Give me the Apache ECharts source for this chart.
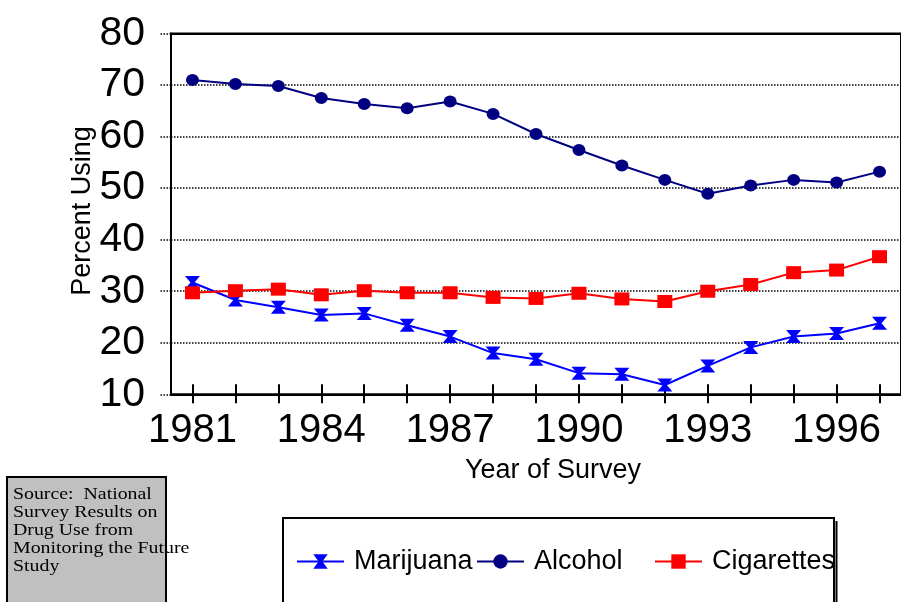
<!DOCTYPE html>
<html>
<head>
<meta charset="utf-8">
<script src="https://cdn.jsdelivr.net/npm/echarts@6/dist/echarts.min.js"></script>
<style>
html,body{margin:0;padding:0;background:#fff;}
#chart{width:901px;height:602px;}
</style>
</head>
<body>
<div id="chart"></div>
<script>
var years = ['1981','1982','1983','1984','1985','1986','1987','1988','1989','1990','1991','1992','1993','1994','1995','1996','1997'];
var marijuana = [31.7,28.3,26.9,25.4,25.7,23.4,21.2,18.0,16.8,14.1,13.9,11.8,15.5,19.1,21.2,21.8,23.8];
var alcohol = [71.0,70.2,69.8,67.5,66.3,65.5,66.8,64.4,60.5,57.4,54.4,51.6,48.9,50.5,51.6,51.1,53.2];
var cigarettes = [29.7,30.1,30.4,29.3,30.1,29.7,29.7,28.8,28.6,29.6,28.5,28.0,30.0,31.3,33.6,34.1,36.7];
var yTicks = {min:10, max:80, interval:10};
var sourceLines = ['Source:  National','Survey Results on','Drug Use from','Monitoring the Future','Study'];

var font = 'Arial, "Liberation Sans", sans-serif';
var hourglass = 'path://M0,0H15L9.5,6.5L15,13H0L5.5,6.5Z';

var chart = echarts.init(document.getElementById('chart'));
var legendBase = {
  top: 548, padding: 0, itemWidth: 47, itemHeight: 18, itemGap: 0,
  textStyle: {fontSize: 27, color: '#000', fontFamily: font, padding: [0,0,0,5]}
};
chart.setOption({
  backgroundColor: '#fff',
  animation: false,
  grid: {left: 171, top: 33.5, bottom: 207.7, right: -6.4, show: true, borderColor: '#000', borderWidth: 2, containLabel: false},
  xAxis: [{
    type: 'category', data: years, boundaryGap: true, position: 'bottom',
    axisLine: {show: true, lineStyle: {color: '#000', width: 2}},
    axisTick: {show: true, alignWithLabel: true, interval: 0, length: 9, lineStyle: {color: '#000', width: 2}},
    axisLabel: {interval: 2, fontSize: 40, color: '#000', fontFamily: font, margin: 17},
    splitLine: {show: false}
  },{
    type: 'category', data: years, boundaryGap: true, position: 'bottom',
    axisLine: {show: false},
    axisTick: {show: true, inside: true, alignWithLabel: true, interval: 0, length: 10, lineStyle: {color: '#000', width: 2}},
    axisLabel: {show: false},
    splitLine: {show: false}
  },{
    type: 'category', data: years, boundaryGap: true, position: 'top', z: 5,
    axisLine: {show: true, lineStyle: {color: '#000', width: 2}},
    axisTick: {show: false}, axisLabel: {show: false}, splitLine: {show: false}
  }],
  yAxis: {
    type: 'value', min: yTicks.min, max: yTicks.max, interval: yTicks.interval,
    axisLine: {show: true, lineStyle: {color: '#000', width: 2}},
    axisTick: {show: true, length: 11, lineStyle: {color: '#000', width: 1.5, type: 'dotted'}},
    axisLabel: {fontSize: 41, color: '#000', fontFamily: font, margin: 26},
    splitLine: {show: true, lineStyle: {color: '#000', width: 1.5, type: 'dotted'}}
  },
  legend: [
    Object.assign({}, legendBase, {left: 296, data: ['Marijuana']}),
    Object.assign({}, legendBase, {left: 476, data: ['Alcohol']}),
    Object.assign({}, legendBase, {left: 654, data: ['Cigarettes']})
  ],
  series: [
    {name: 'Marijuana', type: 'line', data: marijuana, symbol: hourglass, symbolSize: [15,13],
     lineStyle: {color: '#0000FF', width: 2}, itemStyle: {color: '#0000FF'}},
    {name: 'Alcohol', type: 'line', data: alcohol, symbol: 'circle', symbolSize: [13,12],
     lineStyle: {color: '#000080', width: 2}, itemStyle: {color: '#000080'}},
    {name: 'Cigarettes', type: 'line', data: cigarettes, symbol: 'rect', symbolSize: [15,13],
     lineStyle: {color: '#FF0000', width: 2}, itemStyle: {color: '#FF0000'}}
  ],
  graphic: [
    {type: 'text', x: 83, y: 211, rotation: Math.PI/2,
     style: {text: 'Percent Using', fontSize: 27, fontFamily: font, fill: '#000', align: 'center', verticalAlign: 'middle'}},
    {type: 'text', x: 553, y: 471,
     style: {text: 'Year of Survey', fontSize: 27, fontFamily: font, fill: '#000', align: 'center', verticalAlign: 'middle'}},
    {type: 'rect', shape: {x: 7, y: 477, width: 159, height: 140},
     style: {fill: '#C0C0C0', stroke: '#000', lineWidth: 2}, z: 10},
    {type: 'text', x: 13, y: 486, scaleX: 1.24, z: 11,
     style: {text: sourceLines.join('\n'), fontSize: 16, lineHeight: 18, fontFamily: '"Liberation Serif", "Times New Roman", serif', fill: '#000', align: 'left', verticalAlign: 'top'}},
    {type: 'rect', shape: {x: 283, y: 518, width: 551, height: 110},
     style: {fill: 'none', stroke: '#000', lineWidth: 2}, z: 10},
    {type: 'line', shape: {x1: 836.5, y1: 521, x2: 836.5, y2: 602},
     style: {stroke: '#000', lineWidth: 2}, z: 10}
  ]
});
</script>
</body>
</html>
